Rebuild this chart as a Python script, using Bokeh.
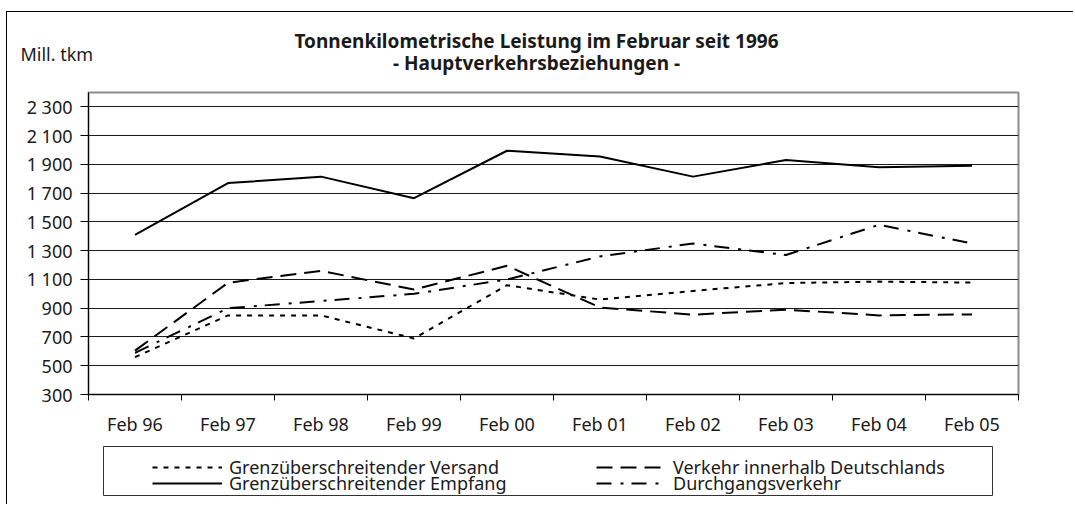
import numpy as np
from bokeh.plotting import figure
from bokeh.models import FixedTicker, Range1d, Label, Legend, LegendItem
from bokeh.layouts import column
from bokeh.embed import file_html
from bokeh.resources import INLINE

# ---------------- data ----------------
categories = ["Feb 96", "Feb 97", "Feb 98", "Feb 99", "Feb 00",
              "Feb 01", "Feb 02", "Feb 03", "Feb 04", "Feb 05"]
versand = [560, 850, 850, 690, 1060, 960, 1020, 1075, 1085, 1078]
empfang = [1410, 1770, 1815, 1665, 1995, 1955, 1815, 1930, 1880, 1890]
innerhalb = [605, 1077, 1160, 1030, 1195, 905, 855, 890, 850, 857]
durchgang = [590, 900, 950, 1000, 1100, 1260, 1350, 1270, 1480, 1350]

series_names = ["Grenzüberschreitender Versand", "Grenzüberschreitender Empfang",
                "Verkehr innerhalb Deutschlands", "Durchgangsverkehr"]

y_ticks = [300, 500, 700, 900, 1100, 1300, 1500, 1700, 1900, 2100, 2300]
y_tick_labels = ["300", "500", "700", "900", "1 100", "1 300", "1 500",
                 "1 700", "1 900", "2 100", "2 300"]

title_line1 = "Tonnenkilometrische Leistung im Februar seit 1996"
title_line2 = "- Hauptverkehrsbeziehungen -"
unit_label = "Mill. tkm"

# ---------------- styling ----------------
FONT = "Noto Sans"
TXT = "#1a1a1a"
W = 1066
styles = {
    "versand": dict(line_color="black", line_width=2, line_dash="5 6"),
    "empfang": dict(line_color="black", line_width=2),
    "innerhalb": dict(line_color="black", line_width=2, line_dash="16 8"),
    "durchgang": dict(line_color="black", line_width=2, line_dash="15 9 3 8"),
}

n = len(categories)
xc = np.arange(n) + 0.5
bounds = list(range(0, n + 1))

# ---------------- title panel ----------------
tp = figure(width=W, height=68, x_range=Range1d(0, W), y_range=Range1d(68, 0),
            output_backend="svg", toolbar_location=None,
            min_border_left=0, min_border_right=0, min_border_top=0, min_border_bottom=0,
            x_axis_location=None, y_axis_location=None)
tp.grid.visible = False
tp.outline_line_color = None
tp.frame_align = False
tp.add_layout(Label(x=529, y=28, text=title_line1, text_align="center",
                    text_baseline="middle", text_font=FONT, text_font_size="19px",
                    text_font_style="bold", text_color=TXT))
tp.add_layout(Label(x=529, y=50, text=title_line2, text_align="center",
                    text_baseline="middle", text_font=FONT, text_font_size="19px",
                    text_font_style="bold", text_color=TXT))
tp.add_layout(Label(x=13, y=41, text=unit_label, text_align="left",
                    text_baseline="middle", text_font=FONT, text_font_size="18px",
                    text_color=TXT))

# ---------------- main chart ----------------
p = figure(width=W, height=358,
           x_range=Range1d(0, n), y_range=Range1d(300, 2400),
           output_backend="svg", toolbar_location=None,
           min_border_left=81, min_border_right=55,
           min_border_top=12, min_border_bottom=43)
p.frame_align = False

# x axis: labels at category centres, ticks at category boundaries
p.xaxis.ticker = FixedTicker(ticks=list(xc), minor_ticks=bounds)
p.xaxis.major_label_overrides = {float(v): c for v, c in zip(xc, categories)}
p.xaxis.major_tick_line_color = None
p.xaxis.major_tick_out = 0
p.xaxis.major_tick_in = 0
p.xaxis.minor_tick_line_color = "black"
p.xaxis.minor_tick_out = 6
p.xaxis.minor_tick_in = 0
p.xaxis.major_label_standoff = 11

# y axis
p.yaxis.ticker = FixedTicker(ticks=y_ticks)
p.yaxis.major_label_overrides = dict(zip(y_ticks, y_tick_labels))
p.yaxis.major_tick_out = 8
p.yaxis.major_tick_in = 0
p.yaxis.minor_tick_line_color = None
p.yaxis.major_label_standoff = 8

for ax in (p.xaxis, p.yaxis):
    ax.axis_line_color = "black"
    ax.axis_line_width = 1
    ax.major_label_text_font = FONT
    ax.major_label_text_font_size = "18px"
    ax.major_label_text_color = TXT

p.xgrid.visible = False
p.ygrid.ticker = FixedTicker(ticks=y_ticks)
p.ygrid.grid_line_color = "#1a1a1a"
p.ygrid.grid_line_width = 1

p.outline_line_color = "#8c8c8c"
p.outline_line_width = 2

p.line(xc, versand, **styles["versand"])
p.line(xc, empfang, **styles["empfang"])
p.line(xc, innerhalb, **styles["innerhalb"])
p.line(xc, durchgang, **styles["durchgang"])

# ---------------- legend panel ----------------
leg = figure(width=W, height=66,
             x_range=Range1d(0, 1), y_range=Range1d(0, 1),
             output_backend="svg", toolbar_location=None,
             min_border_left=96, min_border_right=81,
             min_border_top=8, min_border_bottom=9,
             x_axis_location=None, y_axis_location=None)
leg.frame_align = False
leg.grid.visible = False
leg.outline_line_color = "#333333"
leg.outline_line_width = 1

nan2 = np.array([np.nan, np.nan])
d_v = leg.line(x=nan2, y=nan2, **styles["versand"])
d_e = leg.line(x=nan2, y=nan2, **styles["empfang"])
d_i = leg.line(x=nan2, y=nan2, **styles["innerhalb"])
d_d = leg.line(x=nan2, y=nan2, **styles["durchgang"])

# one legend per entry: two columns x two rows as in the original
entries = [(series_names[0], d_v, (49, 16)), (series_names[1], d_e, (49, 0)),
           (series_names[2], d_i, (493, 16)), (series_names[3], d_d, (493, 0))]
for label, rend, loc in entries:
    lg = Legend(items=[LegendItem(label=label, renderers=[rend])], location=loc)
    lg.padding = 0
    lg.spacing = 0
    lg.margin = 0
    lg.glyph_width = 70
    lg.glyph_height = 24
    lg.label_height = 24
    lg.label_standoff = 7
    lg.label_text_font = FONT
    lg.label_text_font_size = "18px"
    lg.label_text_color = TXT
    lg.border_line_color = None
    lg.background_fill_alpha = 0
    leg.add_layout(lg, "center")

layout = column(tp, p, leg, spacing=0,
                styles={"margin-left": "6px", "margin-top": "11px",
                        "border-left": "1px solid black", "border-top": "1px solid black"})

open("out.html", "w").write(file_html(layout, INLINE))
